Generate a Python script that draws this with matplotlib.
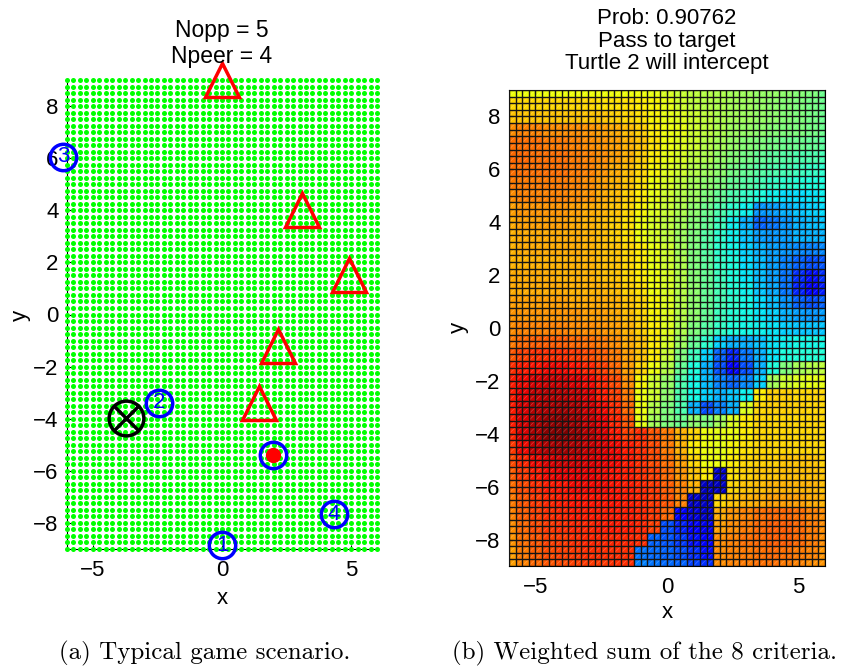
import numpy as np
import matplotlib
matplotlib.use("Agg")
import matplotlib.pyplot as plt
from matplotlib.collections import LineCollection

plt.rcParams['font.family'] = ['Liberation Sans', 'DejaVu Sans']

# --- left panel: game scenario ---
opp_x = [0.0, 3.1, 4.9, 2.15, 1.45]
opp_y = [9.0, 4.0, 1.5, -1.2, -3.38]
peer_x = [0.0, -2.43, -6.16, 4.34]
peer_y = [-8.85, -3.39, 6.06, -7.67]
peer_labels = ['1', '2', '3', '4']
target_x, target_y = 1.99, -5.41
ball_x, ball_y = -3.73, -3.97

grid_x = np.arange(-6, 6.01, 0.5)
grid_y = np.arange(9, -9.01, -0.5)
weighted_pct = [
    [64, 64, 64, 64, 64, 64, 64, 64, 64, 64, 64, 63, 61, 59, 58, 57, 56, 55, 54, 53, 53, 52, 51, 50, 48],
    [68, 68, 68, 68, 68, 68, 68, 67, 67, 67, 66, 65, 63, 60, 58, 57, 56, 55, 54, 53, 52, 51, 50, 49, 48],
    [70, 70, 70, 70, 70, 70, 70, 70, 69, 68, 67, 65, 63, 62, 60, 58, 56, 55, 54, 53, 52, 51, 50, 49, 48],
    [76, 77, 77, 76, 76, 76, 75, 74, 73, 71, 69, 66, 64, 63, 60, 58, 56, 54, 53, 52, 51, 50, 50, 49, 48],
    [79, 79, 79, 78, 78, 77, 76, 75, 74, 72, 70, 67, 64, 62, 60, 57, 55, 53, 51, 50, 49, 48, 48, 47, 46],
    [80, 80, 79, 79, 79, 78, 77, 76, 74, 72, 69, 66, 63, 61, 58, 56, 53, 51, 49, 47, 46, 45, 44, 44, 43],
    [79, 79, 79, 79, 79, 78, 77, 75, 73, 71, 68, 65, 62, 60, 57, 54, 52, 49, 47, 45, 44, 43, 42, 41, 40],
    [78, 78, 78, 78, 78, 77, 76, 74, 72, 70, 67, 64, 61, 58, 55, 52, 50, 47, 45, 43, 41, 40, 39, 38, 38],
    [76, 77, 77, 77, 77, 76, 75, 73, 71, 69, 66, 63, 60, 57, 54, 50, 47, 44, 41, 38, 36, 34, 34, 35, 36],
    [74, 75, 75, 75, 75, 74, 73, 72, 70, 68, 65, 62, 59, 56, 52, 48, 44, 40, 36, 27, 28, 30, 32, 33, 34],
    [73, 74, 74, 74, 74, 73, 72, 71, 69, 67, 64, 61, 58, 55, 51, 47, 42, 36, 30, 22, 24, 27, 30, 31, 32],
    [72, 73, 73, 73, 73, 73, 72, 71, 69, 67, 64, 61, 58, 54, 50, 45, 40, 36, 32, 28, 27, 28, 30, 30, 30],
    [72, 73, 73, 73, 73, 73, 72, 71, 70, 68, 66, 63, 60, 55, 50, 45, 40, 37, 33, 30, 28, 27, 26, 25, 26],
    [72, 72, 72, 72, 72, 72, 72, 71, 70, 68, 66, 63, 60, 56, 50, 46, 41, 38, 34, 31, 28, 25, 22, 20, 21],
    [73, 73, 73, 73, 72, 72, 72, 71, 70, 68, 66, 64, 61, 57, 51, 47, 42, 38, 35, 31, 28, 24, 17, 14, 17],
    [73, 73, 73, 73, 73, 72, 72, 72, 71, 69, 67, 64, 61, 57, 52, 47, 43, 39, 36, 32, 29, 24, 16, 12, 15],
    [74, 74, 74, 74, 74, 73, 73, 73, 72, 70, 68, 65, 62, 57, 52, 47, 43, 40, 37, 34, 31, 27, 22, 20, 22],
    [75, 75, 75, 75, 75, 75, 74, 74, 73, 71, 68, 65, 62, 57, 52, 47, 42, 39, 37, 35, 33, 30, 28, 27, 28],
    [76, 77, 77, 77, 77, 76, 76, 75, 74, 72, 69, 66, 62, 56, 50, 45, 41, 38, 37, 36, 35, 33, 32, 32, 32],
    [78, 80, 81, 81, 81, 80, 79, 78, 76, 73, 70, 66, 61, 54, 47, 40, 33, 30, 30, 32, 35, 36, 37, 37, 37],
    [82, 84, 86, 86, 86, 85, 83, 81, 78, 74, 70, 66, 59, 50, 42, 33, 22, 16, 24, 30, 35, 38, 39, 39, 39],
    [86, 88, 89, 90, 90, 89, 87, 84, 80, 74, 68, 64, 57, 47, 38, 30, 20, 12, 20, 30, 38, 50, 55, 57, 58],
    [88, 90, 92, 93, 93, 92, 90, 87, 83, 76, 65, 60, 53, 44, 37, 31, 25, 22, 26, 33, 55, 60, 62, 63, 63],
    [88, 91, 94, 95, 95, 94, 92, 88, 84, 78, 64, 60, 52, 44, 37, 33, 30, 32, 36, 66, 69, 69, 68, 68, 68],
    [88, 92, 95, 96, 97, 96, 93, 90, 86, 80, 64, 57, 50, 44, 30, 20, 25, 30, 62, 68, 69, 69, 69, 68, 68],
    [88, 92, 96, 98, 99, 97, 94, 91, 87, 82, 63, 55, 50, 48, 52, 50, 55, 62, 66, 68, 68, 68, 68, 68, 68],
    [87, 92, 96, 99, 100, 98, 95, 92, 88, 84, 86, 82, 78, 72, 68, 64, 63, 64, 66, 68, 68, 68, 68, 68, 68],
    [85, 90, 94, 96, 97, 96, 94, 92, 90, 88, 86, 83, 78, 72, 66, 64, 63, 65, 67, 68, 68, 68, 68, 68, 68],
    [83, 87, 90, 92, 93, 93, 92, 91, 90, 88, 86, 83, 79, 74, 68, 64, 64, 66, 68, 69, 69, 70, 70, 70, 69],
    [81, 85, 88, 90, 91, 91, 91, 90, 89, 88, 86, 84, 80, 75, 70, 66, 7, 67, 69, 70, 70, 71, 71, 71, 70],
    [79, 83, 86, 88, 89, 90, 90, 90, 89, 88, 87, 85, 81, 77, 72, 6, 6, 68, 70, 71, 72, 72, 72, 72, 71],
    [78, 82, 85, 87, 88, 89, 89, 89, 89, 88, 87, 85, 82, 77, 7, 6, 68, 70, 72, 73, 74, 74, 74, 73, 72],
    [77, 81, 84, 86, 87, 88, 88, 88, 88, 88, 87, 85, 80, 12, 8, 7, 73, 75, 77, 79, 80, 80, 79, 77, 76],
    [76, 80, 83, 85, 86, 87, 87, 88, 88, 88, 87, 84, 20, 16, 12, 10, 74, 76, 78, 80, 81, 81, 80, 78, 76],
    [75, 79, 82, 84, 85, 86, 87, 87, 87, 87, 86, 22, 21, 18, 14, 12, 76, 77, 79, 80, 81, 81, 80, 78, 76],
    [74, 78, 81, 83, 84, 85, 86, 86, 86, 86, 24, 23, 22, 20, 17, 14, 76, 77, 78, 79, 80, 79, 78, 77, 75],
    [74, 77, 80, 82, 83, 84, 85, 85, 86, 86, 25, 24, 23, 22, 19, 17, 76, 77, 78, 79, 79, 78, 77, 76, 75],
]

x_ticks = [-5, 0, 5]
y_ticks = [-8, -6, -4, -2, 0, 2, 4, 6, 8]
field_step = 0.25
FS = 16

fig = plt.figure(figsize=(8.43, 6.71), dpi=100)


def style_axis(ax, box):
    ax.set_xlim(-6, 6)
    ax.set_ylim(-9, 9)
    ax.set_xticks(x_ticks)
    ax.set_yticks(y_ticks)
    ax.tick_params(direction='in', length=3, width=0.8, labelsize=FS,
                   top=box, right=box, pad=6)
    ax.tick_params(axis='x', pad=8)
    ax.set_xticklabels([str(t).replace('-', '\u2212') for t in x_ticks])
    ax.set_yticklabels([str(t).replace('-', '\u2212') for t in y_ticks])
    for side in ['top', 'right']:
        ax.spines[side].set_visible(box)
    for sp in ax.spines.values():
        sp.set_linewidth(0.8)


def fig_text(px, py, s, **kw):
    fig.text(px / 843, 1 - py / 671, s, ha='center', va='center', **kw)


# left panel
ax1 = fig.add_axes([67 / 843, 122 / 671, 310 / 843, 469 / 671])
style_axis(ax1, box=False)
gx, gy = np.meshgrid(np.arange(-6, 6 + 1e-9, field_step), np.arange(-9, 9 + 1e-9, field_step))
ax1.scatter(gx.ravel(), gy.ravel(), s=13, color='#00ff00', linewidths=0, zorder=3, clip_on=False)
ax1.plot(opp_x, opp_y, '^', ms=24, mfc='none', mec='red', mew=2.5, zorder=5, clip_on=False)
ax1.plot(peer_x, peer_y, 'o', ms=19, mfc='none', mec='blue', mew=2.5, zorder=5, clip_on=False)
for px, py, lab in zip(peer_x, peer_y, peer_labels):
    ax1.text(px, py, lab, color='blue', fontsize=FS, ha='center', va='center', zorder=6)
ax1.plot(target_x, target_y, 'o', ms=19, mfc='none', mec='blue', mew=2.5, zorder=5)
ax1.plot(target_x, target_y, 'o', ms=10, color='red', zorder=6)
ax1.plot(ball_x, ball_y, 'o', ms=25, mfc='none', mec='black', mew=2.5, zorder=5)
ax1.plot(ball_x, ball_y, 'x', ms=19, mec='black', mew=2.5, zorder=5)
fig_text(222, 31, 'Nopp = 5', fontsize=FS + 0.5)
fig_text(222, 56, 'Npeer = 4', fontsize=FS + 0.5)

# right panel
ax2 = fig.add_axes([509 / 843, 105 / 671, 316 / 843, 476 / 671])
style_axis(ax2, box=True)
x_edges = np.clip(np.append(grid_x - 0.25, grid_x[-1] + 0.25), -6, 6)
y_edges = np.clip(np.append(grid_y + 0.25, grid_y[-1] - 0.25), -9, 9)
ax2.pcolormesh(x_edges, y_edges, np.array(weighted_pct) / 100.0, cmap='jet',
               vmin=0, vmax=1, shading='flat', zorder=1)
fine_x = np.arange(-6, 6 + 1e-9, field_step)
fine_y = np.arange(-9, 9 + 1e-9, field_step)
# faint facet diagonals, as the surface renderer leaves them
cx, cy = np.meshgrid(fine_x[:-1], fine_y[:-1])
diag = np.stack([np.column_stack([cx.ravel(), cy.ravel()]),
                 np.column_stack([cx.ravel() + field_step, cy.ravel() + field_step])], axis=1)
ax2.add_collection(LineCollection(diag, colors='white', linewidths=0.5, alpha=0.25, zorder=2))
ax2.vlines(fine_x, -9, 9, color='#151515', lw=1.0, zorder=3)
ax2.hlines(fine_y, -6, 6, color='#151515', lw=1.0, zorder=3)
fig_text(667, 18, 'Prob: 0.90762', fontsize=FS)
fig_text(667, 41, 'Pass to target', fontsize=FS)
fig_text(667, 64, 'Turtle 2 will intercept', fontsize=FS)

# axis labels
fig_text(222, 599, 'x', fontsize=FS)
fig_text(20, 315, 'y', fontsize=FS, rotation=90)
fig_text(667, 612, 'x', fontsize=FS)
fig_text(458, 327, 'y', fontsize=FS, rotation=90)

# captions
fig_text(205, 653, '(a) Typical game scenario.', family='cmr10', fontsize=18)
fig_text(644, 653, '(b) Weighted sum of the 8 criteria.', family='cmr10', fontsize=18)

fig.savefig('out.png', dpi=100)
